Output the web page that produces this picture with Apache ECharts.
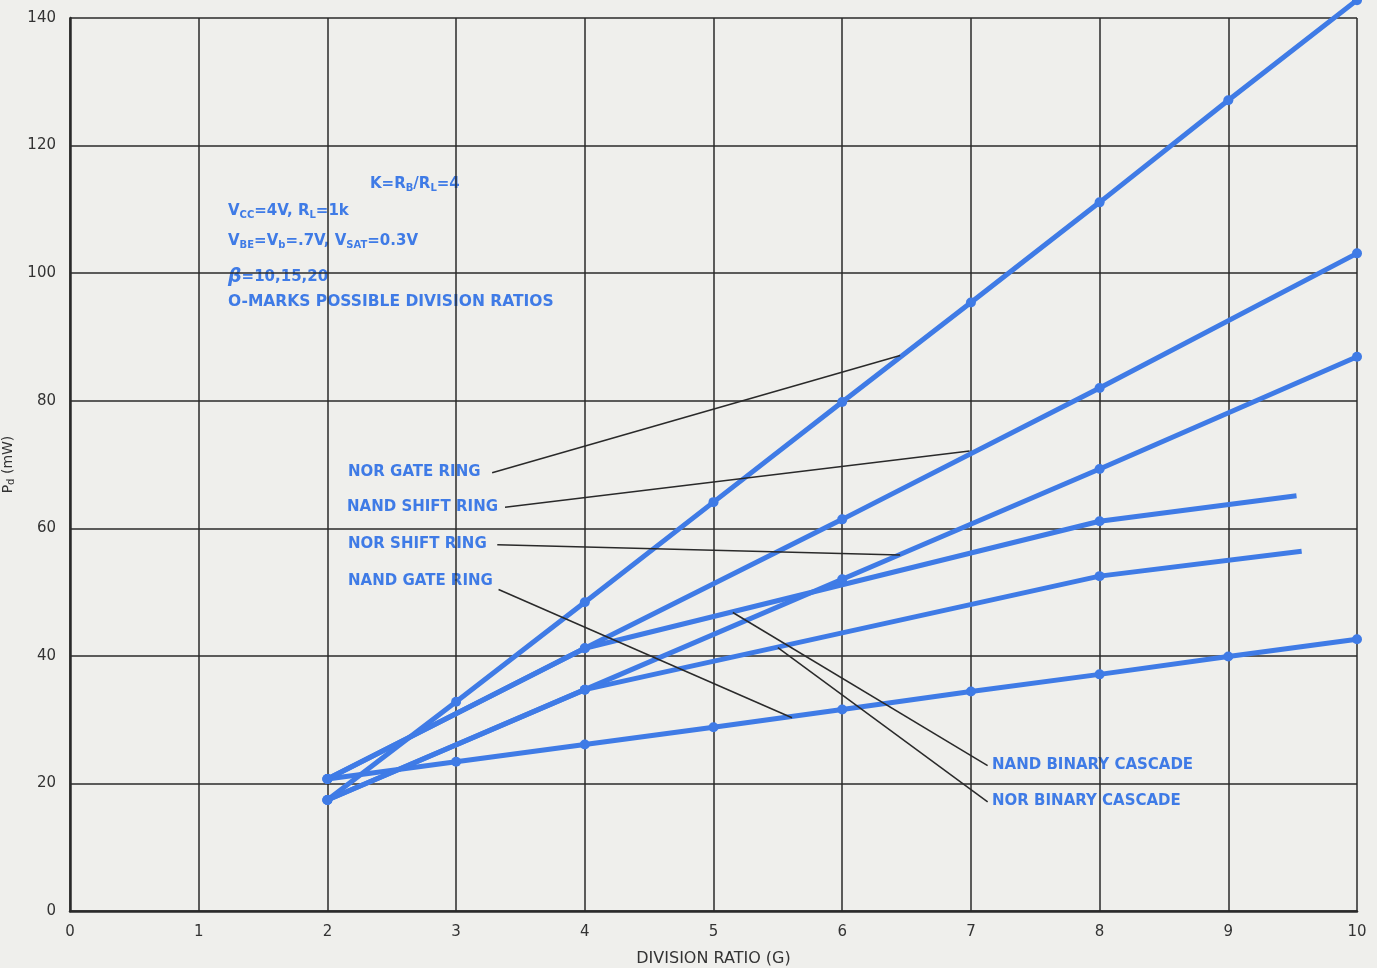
<!DOCTYPE html>
<html>
<head>
<meta charset="utf-8">
<title>Pd vs division ratio</title>
<script src="https://cdn.jsdelivr.net/npm/echarts@6/dist/echarts.min.js"></script>
<style>
  html, body { margin: 0; padding: 0; background: #efefec; }
  #chart { width: 1377px; height: 968px; }
</style>
</head>
<body>
<div id="chart"></div>
<script>
// x values (division ratio G)
const xGate = [2, 3, 4, 5, 6, 7, 8, 9, 10];
const xShift = [2, 4, 6, 8, 10];
const xNandBinary = [2, 4, 8, 9.53];
const xNorBinary = [2, 4, 8, 9.57];

// Pd (mW)
const norGateRing = [17.4, 32.8, 48.4, 64.1, 79.8, 95.4, 111.1, 127.1, 142.8];
const nandGateRing = [20.7, 23.4, 26.1, 28.8, 31.6, 34.4, 37.1, 39.9, 42.6];
const nandShiftRing = [20.7, 41.2, 61.4, 82.0, 103.1];
const norShiftRing = [17.4, 34.7, 52.0, 69.3, 86.9];
const nandBinary = [20.7, 41.2, 61.1, 65.1];
const norBinary = [17.4, 34.7, 52.5, 56.4];

const xTicks = [0, 1, 2, 3, 4, 5, 6, 7, 8, 9, 10];
const yTicks = [0, 20, 40, 60, 80, 100, 120, 140];

// annotation leader lines: [from, to] in data units, arrow at "to"
const leaders = [
  [[3.28, 68.7], [6.45, 87.1]],
  [[3.38, 63.3], [6.99, 72.1]],
  [[3.32, 57.4], [6.45, 55.8]],
  [[3.33, 50.4], [5.61, 30.3]],
  [[7.13, 22.8], [5.15, 46.8]],
  [[7.13, 17.1], [5.50, 41.3]]
];

const blue = "#3f7be6";
const ink = "#2a2a2a";
const font = "DejaVu Sans";

// last point of the cascade lines carries no circle
function pts(xs, ys, openEnd) {
  return xs.map((x, i) => {
    const p = { value: [x, ys[i]] };
    if (openEnd && i === xs.length - 1) p.symbol = "none";
    return p;
  });
}

function curve(name, data) {
  return {
    name: name,
    type: "line",
    data: data,
    clip: false,
    symbol: "circle",
    symbolSize: 10,
    lineStyle: { color: blue, width: 5 },
    itemStyle: { color: blue },
    emphasis: { disabled: true },
    silent: true,
    z: 3
  };
}

const chart = echarts.init(document.getElementById("chart"));

function note(text, x, y, size) {
  return { type: "text", left: x, top: y - 9,
    style: { text: text, fill: blue, font: "bold " + (size || 15) + "px " + font } };
}

const sub = { fontSize: 10, fontWeight: "bold", fontFamily: font, fill: blue, padding: [8, 0, 0, 0] };
const base = { fontSize: 15, fontWeight: "bold", fontFamily: font, fill: blue };

chart.setOption({
  backgroundColor: "#efefec",
  animation: false,
  grid: { left: 70, right: 20, top: 18, bottom: 57, outerBoundsMode: "none", containLabel: false },
  xAxis: {
    type: "value",
    min: 0,
    max: 10,
    interval: 1,
    name: "DIVISION RATIO (G)",
    nameLocation: "middle",
    nameGap: 40,
    nameTextStyle: { color: "#333", fontSize: 16, fontFamily: font },
    axisLine: { lineStyle: { color: ink, width: 2.5 } },
    axisTick: { show: false },
    axisLabel: { color: "#333", fontSize: 15, fontFamily: font, margin: 14,
      formatter: v => xTicks.includes(v) ? String(v) : "" },
    splitLine: { lineStyle: { color: ink, width: 1.5 } }
  },
  yAxis: {
    type: "value",
    min: 0,
    max: 140,
    interval: 20,
    name: "{p|P}{d|d}{p| (mW)}",
    nameLocation: "middle",
    nameGap: 46,
    nameRotate: 90,
    nameTextStyle: {
      rich: {
        p: { fontSize: 14, fontFamily: font, color: "#333" },
        d: { fontSize: 10, fontFamily: font, color: "#333", padding: [6, 0, 0, 0] }
      }
    },
    axisLine: { show: true, lineStyle: { color: ink, width: 2.5 } },
    axisTick: { show: false },
    axisLabel: { color: "#333", fontSize: 15, fontFamily: font, margin: 14,
      formatter: v => yTicks.includes(v) ? String(v) : "" },
    splitLine: { lineStyle: { color: ink, width: 1.5 } }
  },
  graphic: [
    note("NOR GATE RING", 348, 474),
    note("NAND SHIFT RING", 347, 509),
    note("NOR SHIFT RING", 348, 546),
    note("NAND GATE RING", 348, 583),
    note("NAND BINARY CASCADE", 992, 767),
    note("NOR BINARY CASCADE", 992, 803),
    note("O-MARKS POSSIBLE DIVISION RATIOS", 228, 303, 15.5),
    {
      type: "text", left: 370, top: 177,
      style: { text: "{b|K=}{b|R}{s|B}{b|/R}{s|L}{b|=4}", rich: { b: base, s: sub } }
    },
    {
      type: "text", left: 228, top: 204,
      style: { text: "{b|V}{s|CC}{b|=4V, R}{s|L}{b|=1k}", rich: { b: base, s: sub } }
    },
    {
      type: "text", left: 228, top: 234,
      style: { text: "{b|V}{s|BE}{b|=V}{s|b}{b|=.7V, V}{s|SAT}{b|=0.3V}", rich: { b: base, s: sub } }
    },
    {
      type: "text", left: 228, top: 268,
      style: { text: "{g|β}{b|=10,15,20}", rich: { b: base, g: { fontSize: 19, fontStyle: "italic", fontWeight: "bold", fontFamily: font, fill: blue } } }
    }
  ],
  series: [
    curve("NOR GATE RING", pts(xGate, norGateRing, false)),
    curve("NAND SHIFT RING", pts(xShift, nandShiftRing, false)),
    curve("NOR SHIFT RING", pts(xShift, norShiftRing, false)),
    Object.assign(curve("NAND GATE RING", pts(xGate, nandGateRing, false)), {
      markLine: {
        silent: true,
        symbol: ["none", "arrow"],
        symbolSize: [0, 9],
        label: { show: false },
        lineStyle: { color: ink, width: 1.5, type: "solid" },
        data: leaders.map(l => [{ coord: l[0] }, { coord: l[1] }])
      }
    }),
    curve("NAND BINARY CASCADE", pts(xNandBinary, nandBinary, true)),
    curve("NOR BINARY CASCADE", pts(xNorBinary, norBinary, true))
  ]
});
</script>
</body>
</html>
